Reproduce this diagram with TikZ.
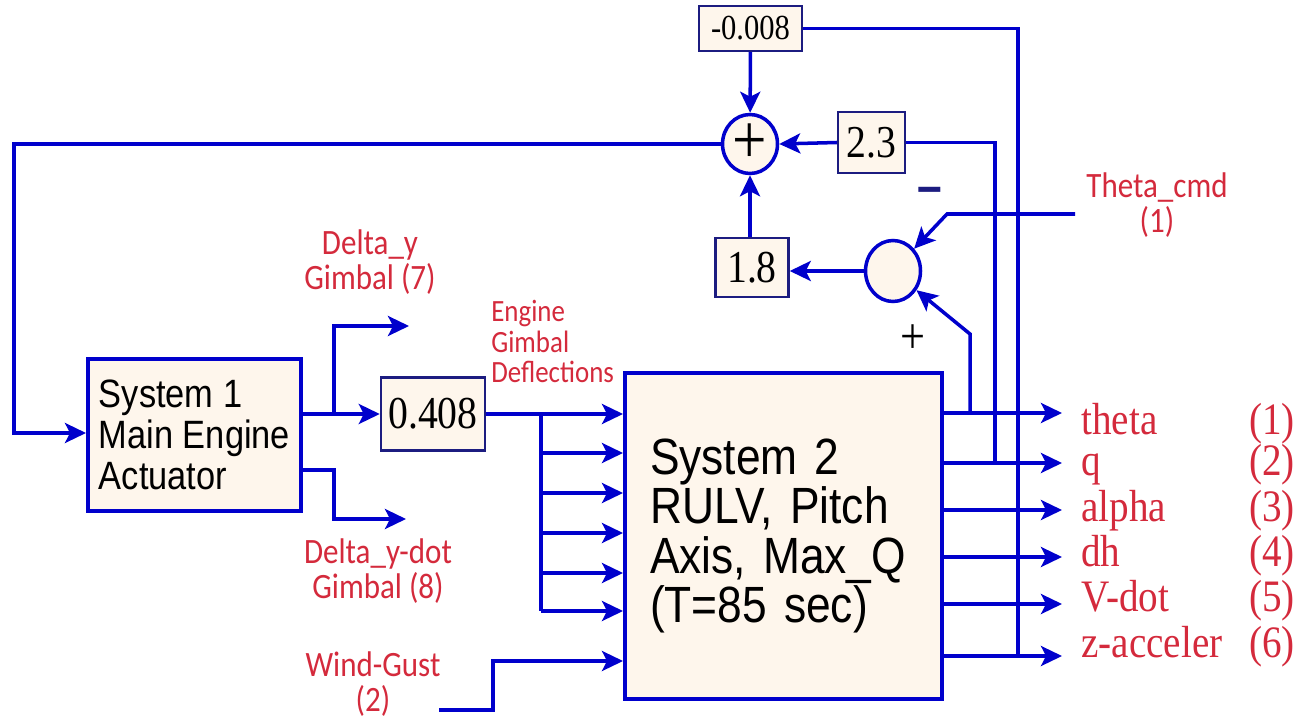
\documentclass[tikz,border=0pt]{standalone}
\usepackage{fontspec}
\setmainfont{Liberation Serif}[FakeStretch=0.87]
\setsansfont{Liberation Sans}[FakeStretch=0.87]
\newfontfamily\lblfont{Carlito}[FakeStretch=0.87]
\usepackage{tikz}
\usetikzlibrary{positioning,arrows.meta,shapes.geometric,calc}
\definecolor{rulvblue}{HTML}{0000CC}
\definecolor{rulvnavy}{HTML}{1C1C80}
\definecolor{rulvfill}{HTML}{FEF6EC}
\definecolor{rulvred}{HTML}{D42A3C}

\begin{document}
\begin{tikzpicture}[x=0.02cm,y=-0.02cm,
  sys/.style={draw=rulvblue,line width=2.3pt,fill=rulvfill,inner sep=0pt,align=left},
  gain/.style={draw=rulvnavy,line width=1.4pt,fill=rulvfill,inner sep=0pt,font=\fontsize{26}{26}\selectfont},
  junc/.style={ellipse,draw=rulvblue,line width=2pt,fill=rulvfill,inner sep=0pt,minimum width=11mm},
  wire/.style={rulvblue,line width=2pt},
  arr/.style={wire,-{Stealth[length=4.2mm,width=4mm,inset=1mm]}},
  lbl/.style={text=rulvred,inner sep=0pt,align=center,font=\lblfont\fontsize{20.3}{19.5}\selectfont},
  outlbl/.style={text=rulvred,inner sep=0pt,anchor=base west,font=\fontsize{25.6}{25.6}\selectfont}
]
\useasboundingbox (0,0) rectangle (1300,719);

% blocks
\node[sys,minimum width=42.6mm,minimum height=30.4mm,font=\sffamily\fontsize{22.5}{23.3}\selectfont] (sys1) at (194.5,435) {System 1\\Main Engine\\Actuator};
\node[sys,minimum width=63.4mm,minimum height=65.2mm,text width=5.34cm,font=\sffamily\fontsize{29}{28.2}\selectfont] (sys2) at (783.5,536) {System 2\\RULV, Pitch\\Axis, Max\_Q\\(T=85 sec)};
\node[gain,minimum width=20.8mm,minimum height=14.6mm] (k4) at (433,414) {0.408};
\node[gain,minimum width=20.6mm,minimum height=9mm,font=\fontsize{20}{20}\selectfont] (k1) at (750.5,28.5) {-0.008};
\node[gain,minimum width=13.4mm,minimum height=12.2mm] (k2) at (871.5,142.5) {2.3};
\node[gain,minimum width=14.6mm,minimum height=11.8mm] (k3) at (752,267.5) {1.8};
\node[junc,minimum height=11.8mm,font=\fontsize{40}{40}\selectfont] (sum) at (750,144) {+};
\node[junc,minimum height=12.2mm] (cmp) at (893,271) {};
\node[text=rulvnavy,font=\sffamily\bfseries\fontsize{29}{29}\selectfont] (minus) at (930,195) {\textendash};
\node[font=\fontsize{29}{29}\selectfont] (plus) at (913,339) {+};

% labels
\node[lbl] (dylbl) at (370,262) {Delta\_y\\Gimbal (7)};
\node[lbl] (dydlbl) at (378,571) {Delta\_y-dot\\Gimbal (8)};
\node[lbl] (wglbl) at (373,684) {Wind-Gust\\(2)};
\node[lbl] (tclbl) at (1157,205) {Theta\_cmd\\(1)};
\node[lbl,align=left,anchor=west,font=\lblfont\fontsize{17.6}{17.4}\selectfont] (eglbl) at (491,341.5) {Engine\\Gimbal\\Deflections};

% outputs of system 2
\foreach \i/\y/\b/\name in {1/413/434/theta,2/463/475/q,3/510/521/alpha,4/557/566/dh,5/604/611/V-dot,6/656/657/z-acceler}{
  \coordinate (t\i) at (1062,\y);
  \draw[arr] (sys2.east |- t\i) -- (t\i);
  \node[outlbl] (o\i) at (1081,\b) {\name};
  \node[outlbl] (n\i) at (1249,\b) {(\i)};
}

% gain loop
\coordinate (zj) at (1018,656);
\coordinate (qj) at (995,463);
\coordinate (thj) at (970,413);
\coordinate (tc) at (1075,214);
\draw[wire] (k1.east) -| (zj);
\draw[wire] (k2.east) -| (qj);
\draw[arr] (k1) -- (sum);
\draw[arr] (k2.west) -- (sum.east);
\draw[arr] (k3.north -| sum.south) -- (sum.south);
\draw[arr] (cmp.west) -- (cmp.west -| k3.east);
\draw[arr] (thj) -- ++(0,-79) -- (cmp);
\draw[arr] (tc) -- ++(-128,0) -- (cmp);

% feedback to actuator
\coordinate (fbl) at (14,433);
\draw[arr] (sum.west) -| (fbl) -- (fbl -| sys1.west);

% actuator outputs
\coordinate (dy) at (409,326);
\coordinate (dyd) at (406,519);
\coordinate (s1o) at (sys1.east |- 0,470);
\draw[arr] (sys1.east |- k4.west) -- (k4.west);
\draw[arr] (sys1.east |- k4.west) -- ++(31,0) |- (dy);
\draw[arr] (s1o) -- ++(31,0) |- (dyd);

% deflections into system 2
\coordinate (bus) at (541,414);
\draw[arr] (k4.east) -- (k4.east -| sys2.west);
\draw[wire] (bus) -- (541,611);
\foreach \y in {453,493,533,573,611}
  \draw[arr] (bus |- 0,\y) -- (sys2.west |- 0,\y);

% wind gust
\coordinate (wg) at (439,710);
\draw[arr] (wg) -- ++(54,0) |- (sys2.west |- 0,661);
\end{tikzpicture}
\end{document}
